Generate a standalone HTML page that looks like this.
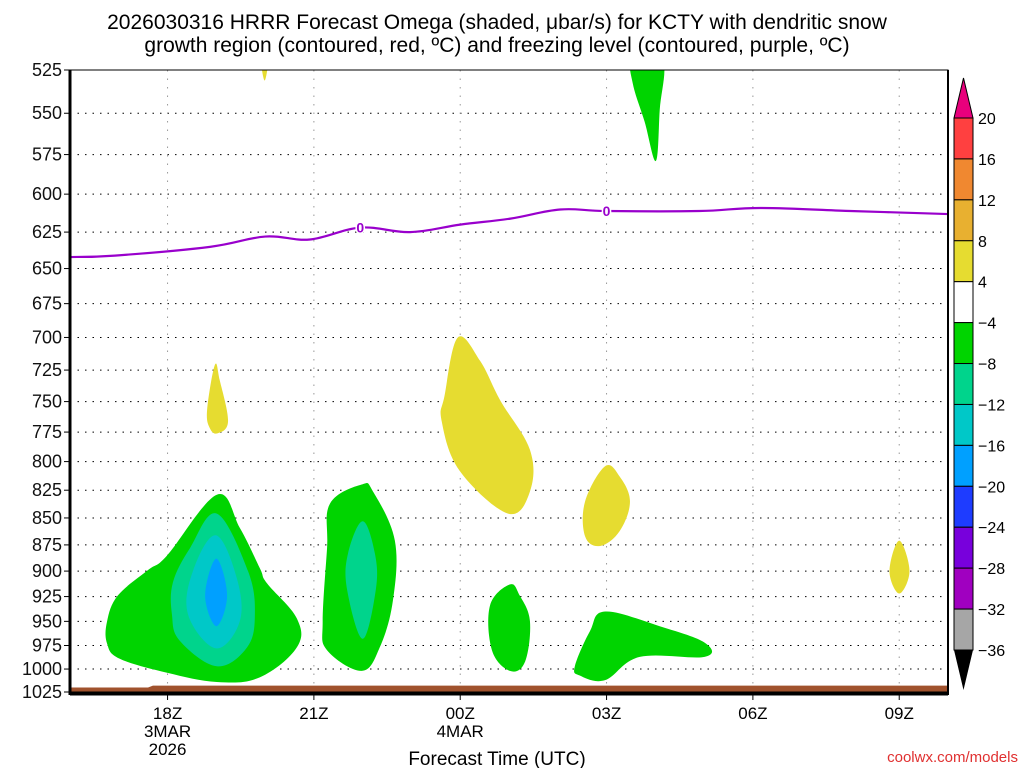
<!DOCTYPE html>
<html><head><meta charset="utf-8"><style>
body{margin:0;background:#fff;}
svg{display:block;font-family:"Liberation Sans",sans-serif;}
</style></head><body>
<svg id="c" width="1024" height="768" viewBox="0 0 1024 768">
<text x="497" y="29" font-size="21" text-anchor="middle">2026030316 HRRR Forecast Omega (shaded, μbar/s) for KCTY with dendritic snow</text>
<text x="497" y="52" font-size="21" text-anchor="middle">growth region (contoured, red, ºC) and freezing level (contoured, purple, ºC)</text>
<g id="grid"></g><g id="fills"></g><g id="lines"></g><g id="axes"></g><g id="cbar"></g>
<text x="497" y="765" font-size="19" text-anchor="middle">Forecast Time (UTC)</text>
<text x="1018" y="762" font-size="15" fill="#e03030" text-anchor="end">coolwx.com/models</text>
</svg>
<script>
const pLevels=[525,550,575,600,625,650,675,700,725,750,775,800,825,850,875,900,925,950,975,1000,1025];
const xTickHours=[18,21,24,27,30,33];
const xTickLabels=["18Z","21Z","00Z","03Z","06Z","09Z"];
const frzHours=[16,16.92,18.87,20,20.92,21.95,22.97,24,25.03,26.05,27,28.9,30.15,32,33.03,34];
const frzPres=[642,641,635,628,630,622,625,620,616,610,611,611,609,611,612,613];
const frzLabelHours=[21.95,27];
const sfcHours=[16,17.6,17.7,34];
const sfcPres=[1020,1020,1018,1018];
const cbLevels=[20,16,12,8,4,-4,-8,-12,-16,-20,-24,-28,-32,-36];
const cbColors=["#ff4040","#f08830","#e8b030","#e6dc30","#ffffff","#00d400","#00d48c","#00c8c8","#00a0ff","#1e3cff","#7800dc","#a000c0","#a6a6a6"];
const regions=[
 {c:5,pts:[[19.01,829],[17.99,885],[17.6,899],[16.98,924],[16.76,950],[16.76,973],[17.02,989],[17.99,1004],[19.01,1014],[19.89,1009],[20.65,977],[20.65,947],[20.04,912],[19.89,897],[19.48,859]]},
 {c:6,pts:[[19.01,846],[18.46,878],[18.11,911],[18.09,943],[18.25,970],[19.01,997],[19.63,977],[19.79,943],[19.65,900]]},
 {c:7,pts:[[18.99,866],[18.52,900],[18.42,943],[18.99,978],[19.48,950],[19.42,907]]},
 {c:8,pts:[[19.0,888],[18.77,924],[19.0,955],[19.22,924]]},
 {c:5,pts:[[21.98,820],[21.33,837],[21.27,878],[21.18,950],[21.27,980],[21.98,1002],[22.35,977],[22.62,929],[22.66,871],[22.21,826]]},
 {c:6,pts:[[22.0,853],[21.7,883],[21.68,918],[22.0,968],[22.27,918],[22.25,883]]},
 {c:5,pts:[[27.54,520],[28.15,520],[28.09,548],[28.01,579],[27.78,555],[27.54,533]]},
 {c:3,pts:[[19.93,522],[20.05,522],[19.99,531]]},
 {c:3,pts:[[18.97,721],[18.81,757],[18.87,772],[19.03,776],[19.24,766],[19.07,733]]},
 {c:3,pts:[[23.95,700],[23.68,745],[23.62,766],[23.99,808],[24.98,846],[25.43,826],[25.43,790],[24.82,749],[24.41,718]]},
 {c:3,pts:[[26.97,804],[26.56,835],[26.56,867],[26.87,876],[27.27,862],[27.48,835],[27.27,813]]},
 {c:3,pts:[[33.0,871],[32.8,900],[33.0,922],[33.21,900]]},
 {c:5,pts:[[25.02,913],[24.61,934],[24.65,980],[25.02,1002],[25.33,992],[25.43,950],[25.22,924]]},
 {c:5,pts:[[26.35,997],[26.66,960],[26.97,940],[28.09,955],[29.01,972],[29.01,987],[27.68,987],[26.97,1012],[26.45,1007]]}
];
const X0=70,X1=948,Y0=70,Y1=692,H0=16,H1=34,P0=525,P1=1025;
const xs=h=>X0+(h-H0)/(H1-H0)*(X1-X0);
const ys=p=>Y0+Math.log(p/P0)/Math.log(P1/P0)*(Y1-Y0);
const NS="http://www.w3.org/2000/svg";
function mk(tag,par,at){const e=document.createElementNS(NS,tag);for(const k in at)e.setAttribute(k,at[k]);document.getElementById(par).appendChild(e);return e;}
function smooth(P){const n=P.length;let d=`M${P[0][0]},${P[0][1]}`;
for(let i=0;i<n;i++){const p0=P[(i-1+n)%n],p1=P[i],p2=P[(i+1)%n],p3=P[(i+2)%n];const t=0.18;
d+=` C${p1[0]+(p2[0]-p0[0])*t},${p1[1]+(p2[1]-p0[1])*t} ${p2[0]-(p3[0]-p1[0])*t},${p2[1]-(p3[1]-p1[1])*t} ${p2[0]},${p2[1]}`;}
return d+'Z';}
pLevels.forEach(p=>{const e=mk('line','grid',{x1:X0,x2:X1,y1:ys(p),y2:ys(p),stroke:'#000','stroke-width':1,'stroke-dasharray':'1.5,6'});


const t=mk('text','axes',{x:62,y:ys(p)+6,'font-size':18,'text-anchor':'end',fill:'#111'});t.textContent=p;


const tk=mk('line','axes',{x1:64,x2:X0,y1:ys(p),y2:ys(p),stroke:'#000'});

});
xTickHours.forEach((h,i)=>{const e=mk('line','grid',{x1:xs(h),x2:xs(h),y1:Y0,y2:Y1,stroke:'#999','stroke-width':1,'stroke-dasharray':'1.5,7'});


const tk=mk('line','axes',{x1:xs(h),x2:xs(h),y1:Y1,y2:Y1+8,stroke:'#000'});


const t=mk('text','axes',{x:xs(h),y:719,'font-size':17,'text-anchor':'middle'});t.textContent=xTickLabels[i];

});
[["3MAR",18,737],["2026",18,755],["4MAR",24,737]].forEach(a=>{const t=mk('text','axes',{x:xs(a[1]),y:a[2],'font-size':17,'text-anchor':'middle'});t.textContent=a[0];

});
const cp=mk('clipPath','fills',{id:'plotclip'});
const cr=document.createElementNS(NS,'rect');cr.setAttribute('x',X0);cr.setAttribute('y',Y0);cr.setAttribute('width',X1-X0);cr.setAttribute('height',Y1-Y0+3);cp.appendChild(cr);
regions.forEach(r=>{const e=mk('path','fills',{d:smooth(r.pts.map(q=>[xs(q[0]),ys(q[1])])),fill:cbColors[r.c],'clip-path':'url(#plotclip)'});

});
let sp=sfcHours.map((h,i)=>xs(h)+','+ys(sfcPres[i])).join(' ')+' '+X1+','+(Y1+2)+' '+X0+','+(Y1+2);
const sf=mk('polygon','fills',{points:sp,fill:'#a0522d'});


const fl=mk('path','lines',{d:(function(){const P=frzHours.map((h,i)=>[xs(h),ys(frzPres[i])]);let d=`M${P[0][0]},${P[0][1]}`;for(let i=0;i<P.length-1;i++){const p0=P[Math.max(i-1,0)],p1=P[i],p2=P[i+1],p3=P[Math.min(i+2,P.length-1)],t=0.18;d+=` C${p1[0]+(p2[0]-p0[0])*t},${p1[1]+(p2[1]-p0[1])*t} ${p2[0]-(p3[0]-p1[0])*t},${p2[1]-(p3[1]-p1[1])*t} ${p2[0]},${p2[1]}`;}return d;})(),fill:'none',stroke:'#9900cc','stroke-width':2.2});


frzLabelHours.forEach(h=>{let i=frzHours.indexOf(h);const t=mk('text','lines',{x:xs(h),y:ys(frzPres[i])+5,'font-size':14,'font-weight':'bold','text-anchor':'middle',fill:'#9900cc',stroke:'#fff','stroke-width':3,'paint-order':'stroke'});t.textContent='0';

});
const fr=mk('rect','axes',{x:X0,y:Y0,width:X1-X0,height:Y1-Y0,fill:'none',stroke:'#000','stroke-width':1});


const la=mk('line','axes',{x1:X0,x2:X0,y1:Y0,y2:Y1+3,stroke:'#000','stroke-width':3});


const ba=mk('line','axes',{x1:X0,x2:X1,y1:Y1+2,y2:Y1+2,stroke:'#000','stroke-width':3});


const ra=mk('line','axes',{x1:X1,x2:X1,y1:Y0,y2:Y1+3,stroke:'#000','stroke-width':2});


const CY0=118,CDY=(650-118)/13,CX=954,CW=19;
cbColors.forEach((c,i)=>{const r=mk('rect','cbar',{x:CX,y:CY0+i*CDY,width:CW,height:CDY,fill:c,stroke:'#000','stroke-width':1});

});
const ta=mk('polygon','cbar',{points:`${CX},${CY0} ${CX+CW},${CY0} ${CX+CW/2},78`,fill:'#e8007c',stroke:'#000'});


const yb=CY0+cbColors.length*CDY;
const bt=mk('polygon','cbar',{points:`${CX},${yb} ${CX+CW},${yb} ${CX+CW/2},690`,fill:'#000'});


cbLevels.forEach((v,i)=>{const t=mk('text','cbar',{x:978,y:CY0+i*CDY+6,'font-size':16});t.textContent=v<0?'\u2212'+(-v):v;

});
</script>
</body></html>
